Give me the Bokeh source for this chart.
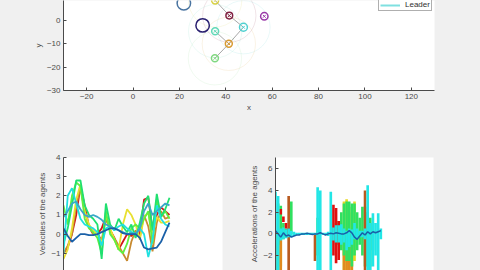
from bokeh.plotting import figure
from bokeh.layouts import column, row
from bokeh.models import Range1d, FixedTicker, Legend, LegendItem, ColumnDataSource
from bokeh.embed import file_html
from bokeh.resources import INLINE

BG = "#f0f0f0"
AX = "#4a4a4a"
FONT = "Liberation Sans"

# ---------------- top panel: agent positions ----------------
agent_x = [21.9, 30.0, 35.4, 41.5, 56.6, 47.6, 35.4, 41.3, 35.3]
agent_y = [7.4, -2.1, 8.6, 2.1, 1.8, -2.9, -4.6, -10.0, -16.2]
agent_r = [2.9, 2.9, 1.5, 1.45, 1.6, 1.7, 1.5, 1.5, 1.5]
agent_colors = ["#4a74a0", "#2a2070", "#d8d040", "#802040", "#9a3aa8",
                "#50d0d0", "#60d8b8", "#d89a30", "#80d880"]
edge_from = [2, 3, 5, 6, 7]
edge_to = [3, 5, 7, 7, 8]
sense_idx = [2, 3, 5, 6, 7, 8]
sense_radius = 11.5
leader_idx = 5
x_ticks_top = [-20, 0, 20, 40, 60, 80, 100, 120]
y_ticks_top = [-30, -20, -10, 0, 10]

# ---------------- velocities ----------------
t_vel = [0, 0.8, 1.6, 2.4, 3.2, 4.0, 4.8, 5.6, 6.4, 7.2, 8.0, 8.8, 9.6, 10.4,
         11.2, 12.0, 12.8, 13.6, 14.4, 15.2, 16.0, 16.8, 17.6, 18.4, 19.2, 20.0]
vel_colors = ["#d01818", "#c88a30", "#e8e030", "#60f040", "#20e070",
              "#20e0e0", "#3aa8c8", "#1a60a8"]
vel_red = [-1.0, -0.7, 0.0, 1.0, 2.5, 1.5, 0.4, 0.0, 0.0, 0.3, 0.9, 0.2, -0.2,
           -0.8, -0.4, 0.0, -0.1, 0.1, 0.0, 1.8, 1.9, 0.2, 1.0, 1.4, 1.2, 1.0]
vel_orange = [-1.0, -0.6, 0.0, 1.5, 2.4, 1.2, 0.4, 0.0, 0.0, -0.3, 0.8, 0.2, -0.2,
              -0.6, -1.0, -1.4, -0.4, 0.2, -0.2, 1.0, 0.4, -0.9, 0.6, 1.2, 0.8, 0.9]
vel_yellow = [-1.3, -0.8, 0.3, 1.8, 2.6, 1.2, 0.5, 0.2, 0.0, -0.5, 1.0, 0.3, -0.3,
              -0.8, 0.5, 1.3, 1.0, 0.5, -0.3, 0.9, 1.1, 0.0, 0.9, 0.6, 0.6, 0.7]
vel_lime = [1.5, 0.5, 2.0, 2.7, 2.5, 0.8, 0.3, 0.1, -0.2, -1.0, 1.2, 0.0, -0.3,
            -0.8, -1.0, -0.5, 0.3, 0.5, 0.3, 0.8, 1.2, -0.5, 1.8, 0.9, 1.2, 0.8]
vel_green = [-0.5, 0.3, 1.5, 2.8, 2.8, 1.5, 1.0, 0.8, 0.5, -1.3, 1.6, 0.5, 0.2,
             0.8, 0.4, 0.1, 0.5, -0.2, 0.6, 1.6, 2.0, 0.2, 2.1, 0.9, 1.3, 1.9]
vel_cyan = [-1.0, 2.0, 2.4, 1.6, 0.8, 0.5, 0.4, 0.3, 0.1, -0.6, 0.3, 0.4, 0.2,
            0.4, 0.5, 0.3, 0.1, 0.0, 0.3, 0.0, -1.2, -0.3, 1.5, 0.8, 0.5, 0.4]
vel_teal = [0.9, 1.2, 1.6, 1.7, 1.3, 1.0, 0.9, 1.0, 0.9, 0.75, 0.5, 0.4, 0.3,
            0.2, 0.1, 0.0, 0.05, 0.0, 0.3, 1.2, 1.6, 1.0, 1.2, 1.4, 1.6, 1.5]
vel_blue = [0.3, -0.1, -0.4, -0.2, 0.0, 0.0, -0.05, -0.05, 0.0, 0.1, 0.2, 0.3, 0.3,
            0.2, 0.05, 0.0, 0.0, 0.0, -0.2, -0.7, -0.8, -0.75, -0.7, -0.4, 0.1, 0.6]
vel_series = [vel_red, vel_orange, vel_yellow, vel_lime, vel_green,
              vel_cyan, vel_teal, vel_blue]
vel_ticks = [-1, 0, 1, 2, 3, 4]

# ---------------- accelerations (oscillation envelopes per time bin) ----------------
t_acc = [0, 0.5, 1, 1.5, 2, 2.5, 3, 3.5, 4, 4.5, 5, 5.5, 6, 6.5, 7, 7.5, 8, 8.5,
         9, 9.5, 10, 10.5, 11, 11.5, 12, 12.5, 13, 13.5, 14, 14.5, 15, 15.5, 16,
         16.5, 17, 17.5, 18, 18.5, 19, 19.5, 20]
acc_yellow_hi = [0, 0, 0, 0, 0, 0, 0, 0, 0, 0, 0, 0, 0, 0, 0, 0, 0, 0, 0, 0, 0,
                 0, 0, 0, 0, 0, 3.0, 3.2, 2.5, 2.0, 3.0, 0, 0, 0, 0, 0, 0, 0, 0, 0, 0]
acc_yellow_lo = [-4, -4, -3, 0, 0, 0, 0, 0, 0, 0, 0, 0, 0, 0, 0, 0, 0, 0, 0, 0, 0,
                 0, 0, 0, 0, 0, -4, -4, -4, -3, -2.5, 0, 0, 0, 0, 0, 0, 0, 0, 0, 0]
acc_orange_hi = [0, 0, 0, 0, 0, 0, 0, 0, 0, 0, 0, 0, 0, 0, 0, 0, 0, 0, 0, 0, 0,
                 0, 0, 0, 0, 0, 0, -0.5, -1.0, 0, 0, 0, 0, 0, 0, 0, 0, 0, 0, 0, 0]
acc_orange_lo = [-4, -4, -3.5, 0, 0, 0, 0, 0, 0, 0, 0, 0, 0, 0, 0, 0, 0, 0, 0, 0, 0,
                 0, 0, 0, 0, 0, -4, -4, -4, -4, 0, 0, 0, 0, 0, 0, 0, 0, 0, 0, 0]
acc_green_hi = [0, 2.8, 2.6, 1.0, 0.5, 0, 3.0, 0, 0, 0, 0, 0, 0, 0, 0, 0, 1.5, 0,
                0, 0, 0, 0, 0, 1.0, 1.2, 2.0, 2.8, 3.0, 3.0, 2.8, 2.8, 2.0, 1.5,
                2.5, 2.5, 2.0, 1.5, 1.0, 0, 0, 0]
acc_green_lo = [0, -1.0, -0.5, -0.5, -0.3, 0, 0, 0, 0, 0, 0, 0, 0, 0, 0, 0, -2.0, 0,
                0, 0, 0, 0, 0, -1.0, -1.0, -1.5, -2.0, -2.5, -2.5, -3.0, -2.0, -1.5,
                -1.0, -2.0, -3.0, -3.0, -3.0, -1.5, 0, 0, 0]
acc_brown_hi = [0, 0, 0, 0, 0, 3.5, 0, 0, 0, 0, 0, 0, 0, 0, 0, 0, 0, 0, 0, 0, 0,
                0, 0, 0, 0, 0, 0, 0, 0, 0, 0, 0, 0, 0, 4.0, 0, 0, 0, 0, 0, 0]
acc_brown_lo = [0, 0, 0, 0, 0, -4, 0, 0, 0, 0, 0, 0, 0, 0, 0, -2.5, 0, 0, 0, 0, 0,
                0, 0, 0, 0, 0, 0, 0, 0, 0, 0, 0, 0, 0, -4, 0, 0, 0, 0, 0, 0]
acc_red_hi = [0, 0, 2.3, 1.6, 1.0, 0.5, 0, 0, 0, 0, 0, 0, 0, 0, 0, 0, 0, 0, 0, 0, 0,
              0, 2.7, 2.4, 1.2, 0, 0, 0, 0, 0, 0, 0, 0, 0, 0, 0, 0, 0, 0, 0, 0]
acc_red_lo = [0, 0, 1.8, 1.1, 0.5, 0.0, 0, 0, 0, 0, 0, 0, 0, 0, 0, 0, 0, 0, 0, 0, 0,
              0, -2.0, -2.7, -2.4, 0, 0, 0, 0, 0, 0, 0, 0, 0, 0, 0, 0, 0, 0, 0, 0]
acc_cyan_hi = [3.9, 3.5, 0.5, 0.6, 0.4, 0.5, 0.3, 0.2, 0.1, 0.1, 0.1, 0.1, 0.1, 0.1,
               0.1, 0.1, 4.3, 4.0, 0.1, 0.1, 0.2, 3.9, 0.6, 0.8, 0.8, 0.9, 0.5, 0.3,
               0.5, 0.4, 1.0, 0.5, 0.3, 0.3, 0.5, 4.5, 1.0, 1.9, 1.0, 1.9, 0.5]
acc_cyan_lo = [-4, -4, -0.6, -0.5, -0.4, -0.3, -0.3, -0.2, -0.1, -0.1, -0.1, -0.1,
               -0.1, -0.1, -0.1, -0.1, -4, -4, -0.1, -0.1, -0.2, -4, -0.6, -0.8,
               -0.8, -1.0, -0.8, -1.5, -1.2, -1.0, -0.5, -0.5, -0.3, -0.3, -0.5,
               -4, -4, -3.0, -2.0, -3.5, -0.5]
acc_leader = [0.3, 0.0, -0.3, 0.1, -0.2, -0.1, -0.3, -0.2, -0.1, -0.1, 0.0, 0.0,
              0.05, 0.0, -0.05, 0.0, 0.0, 0.1, 0.0, -0.1, 0.0, 0.05, 0.0, 0.1, 0.05,
              0.0, 0.0, 0.1, 0.3, 0.1, -0.3, -0.5, -0.2, 0.1, -0.1, 0.2, 0.0, 0.2,
              0.1, 0.2, 0.3]
acc_layers = [
    (acc_yellow_hi, acc_yellow_lo, "#e8d820"),
    (acc_orange_hi, acc_orange_lo, "#e08a20"),
    (acc_green_hi, acc_green_lo, "#30e060"),
    (acc_brown_hi, acc_brown_lo, "#b85a20"),
    (acc_red_hi, acc_red_lo, "#e01010"),
    (acc_cyan_hi, acc_cyan_lo, "#22e6e6"),
]
acc_ticks = [-2, 0, 2, 4, 6]


def style(p):
    p.background_fill_color = "white"
    p.border_fill_color = BG
    p.outline_line_color = None
    p.grid.visible = False
    for ax in p.axis:
        ax.axis_line_color = AX
        ax.major_tick_line_color = AX
        ax.major_tick_in = 3
        ax.major_tick_out = 0
        ax.minor_tick_line_color = None
        ax.major_label_text_font = FONT
        ax.major_label_text_font_size = "8px"
        ax.major_label_text_color = AX
        ax.major_label_standoff = 3
        ax.axis_label_text_font = FONT
        ax.axis_label_text_font_size = "8px"
        ax.axis_label_text_font_style = "normal"
        ax.axis_label_text_color = AX
        ax.axis_label_standoff = 1


# ---- top figure ----
top = figure(width=480, height=120, output_backend="svg", toolbar_location=None,
             x_range=Range1d(-30, 130), y_range=Range1d(-30, 8.57),
             min_border_left=63, min_border_right=46, min_border_top=0,
             min_border_bottom=30)
style(top)
top.xaxis.ticker = FixedTicker(ticks=x_ticks_top)
top.yaxis.ticker = FixedTicker(ticks=y_ticks_top)
top.xaxis.axis_label = "x"
top.yaxis.axis_label = "y"

top.circle(x=[agent_x[i] for i in sense_idx], y=[agent_y[i] for i in sense_idx],
           radius=sense_radius, fill_color=None,
           line_color=[agent_colors[i] for i in sense_idx], line_alpha=0.12,
           line_width=1)
top.segment(x0=[agent_x[i] for i in edge_from], y0=[agent_y[i] for i in edge_from],
            x1=[agent_x[i] for i in edge_to], y1=[agent_y[i] for i in edge_to],
            line_color="#a8a8a8", line_width=1)
top.circle(x=agent_x, y=agent_y, radius=agent_r, fill_color=None,
           line_color=agent_colors, line_width=1.5)
top.scatter(x=agent_x[2:], y=agent_y[2:], marker="x", size=4,
            line_color=agent_colors[2:], line_width=1)
leader_src = ColumnDataSource(data=dict(
    x=[agent_x[leader_idx], agent_x[leader_idx]],
    y=[agent_y[leader_idx], agent_y[leader_idx]]))
leader_r = top.line(x="x", y="y", source=leader_src, line_color="#7fe0e0",
                    line_width=2)
legend = Legend(items=[LegendItem(label="Leader", renderers=[leader_r])],
                location=(315, 79), padding=1, margin=0, spacing=0,
                label_height=8, glyph_height=8, glyph_width=20, label_standoff=5,
                label_text_font=FONT, label_text_font_size="8px",
                label_text_color="#303030", border_line_color="#606060",
                border_line_width=1, background_fill_color="white")
top.add_layout(legend)

# ---- bottom left: velocities ----
bl = figure(width=247, height=150, output_backend="svg", toolbar_location=None,
            x_range=Range1d(0, 30), y_range=Range1d(-1.9, 4.0),
            min_border_left=63, min_border_right=25, min_border_top=37,
            min_border_bottom=0)
style(bl)
bl.xaxis.visible = False
bl.yaxis.ticker = FixedTicker(ticks=vel_ticks)
bl.yaxis.axis_label = "Velocities of the agents"
for vals, c in zip(vel_series, vel_colors):
    bl.line(x=t_vel, y=vals, line_color=c, line_width=1.8)

# ---- bottom right: accelerations ----
br = figure(width=233, height=150, output_backend="svg", toolbar_location=None,
            x_range=Range1d(0, 30), y_range=Range1d(-3.38, 7.05),
            min_border_left=25, min_border_right=47, min_border_top=37,
            min_border_bottom=0)
style(br)
br.xaxis.visible = False
br.yaxis.ticker = FixedTicker(ticks=acc_ticks)
br.yaxis.axis_label = "Accelerations of the agents"
for hi, lo, c in acc_layers:
    br.vbar(x=t_acc, width=0.5, top=hi, bottom=lo, fill_color=c, line_color=None)
br.line(x=t_acc, y=acc_leader, line_color="#1a60a8", line_width=1.5)

layout = column(top, row(bl, br, spacing=0), spacing=0)
layout.background = BG
open("out.html", "w").write(file_html(layout, INLINE))
